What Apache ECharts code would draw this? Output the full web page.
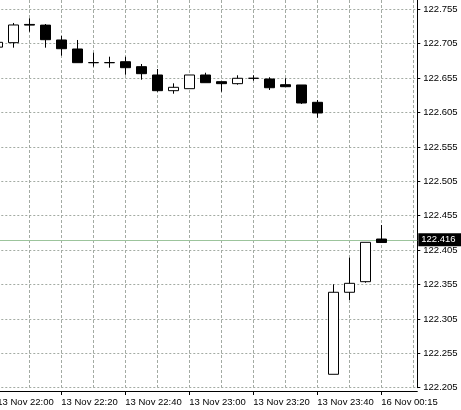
<!DOCTYPE html>
<html>
<head>
<meta charset="utf-8">
<title>USDJPY M5</title>
<script src="https://cdn.jsdelivr.net/npm/echarts@6.0.0/dist/echarts.min.js"></script>
<style>
    html, body { margin: 0; padding: 0; background: #fff; }
    #chart { width: 461px; height: 410px; }
</style>
</head>
<body>
<div id="chart"></div>
<script>
// 5 minute bars
var times = [
    '13 Nov 22:00', '13 Nov 22:05', '13 Nov 22:10', '13 Nov 22:15',
    '13 Nov 22:20', '13 Nov 22:25', '13 Nov 22:30', '13 Nov 22:35',
    '13 Nov 22:40', '13 Nov 22:45', '13 Nov 22:50', '13 Nov 22:55',
    '13 Nov 23:00', '13 Nov 23:05', '13 Nov 23:10', '13 Nov 23:15',
    '13 Nov 23:20', '13 Nov 23:25', '13 Nov 23:30', '13 Nov 23:35',
    '13 Nov 23:40', '13 Nov 23:45', '13 Nov 23:50', '13 Nov 23:55',
    '16 Nov 00:15'
];
var opens = [
    122.700, 122.7065, 122.733, 122.732, 122.7104, 122.6973, 122.6775, 122.6775,
    122.6788, 122.6716, 122.6595, 122.6367, 122.6396, 122.6595, 122.6498, 122.6469,
    122.6547, 122.6537, 122.6454, 122.6450, 122.6198, 122.2245, 122.3437, 122.3591,
    122.4211
];
var closes = [
    122.707, 122.7322, 122.732, 122.7108, 122.6977, 122.6774, 122.6774, 122.6774,
    122.6701, 122.6614, 122.6367, 122.6416, 122.6595, 122.6483, 122.6469, 122.6547,
    122.6547, 122.6410, 122.6425, 122.6188, 122.6043, 122.3437, 122.3567, 122.4163,
    122.416
];
var lows = [
    122.699, 122.6992, 122.7224, 122.6992, 122.6876, 122.6774, 122.6716, 122.6701,
    122.6599, 122.6527, 122.6352, 122.6323, 122.6396, 122.6483, 122.6352, 122.6454,
    122.6512, 122.6377, 122.6425, 122.6174, 122.5974, 122.2245, 122.3325, 122.3576,
    122.416
];
var highs = [
    122.708, 122.7351, 122.7419, 122.7336, 122.7163, 122.7104, 122.6919, 122.6861,
    122.6861, 122.6755, 122.6682, 122.6474, 122.6595, 122.6628, 122.6498, 122.6591,
    122.6591, 122.6562, 122.6547, 122.6450, 122.6232, 122.3553, 122.3940, 122.4163,
    122.4415
];
var lastPrice = 122.416;

// price scale
var yMin = 122.205;
var yMax = 122.7685;
var yStep = 0.05;

// each bar gets 4 slots on the axis so grid lines can sit on bar centres
var SLOTS = 4;
var PAD_SLOTS = 6; // empty space right of the last bar
var cats = [];
var ohlc = [];
for (var i = 0; i < times.length; i++) {
    for (var s = 0; s < SLOTS; s++) {
        if (s === 0) {
            cats.push(times[i]);
            ohlc.push([opens[i], closes[i], lows[i], highs[i]]);
        } else {
            cats.push(times[i] + ' +' + s);
            ohlc.push(['-', '-', '-', '-']);
        }
    }
}
for (var p = 0; p < PAD_SLOTS; p++) {
    cats.push('pad ' + p);
    ohlc.push(['-', '-', '-', '-']);
}

var FONT = 'Liberation Sans';
var gridColor = '#a3aba3';

var myChart = echarts.init(document.getElementById('chart'));
myChart.setOption({
    animation: false,
    backgroundColor: '#fff',
    textStyle: { fontFamily: FONT },
    grid: {
        left: -2.7,
        right: 43.7,
        top: 0,
        bottom: 22.3,
        containLabel: false,
        outerBoundsMode: 'none'
    },
    xAxis: {
        type: 'category',
        data: cats,
        boundaryGap: false,
        offset: 3.3,
        axisLine: { lineStyle: { color: '#000', width: 1 } },
        axisTick: {
            length: 4,
            lineStyle: { color: '#000' },
            interval: function (idx) { return idx % (SLOTS * 4) === 0; }
        },
        axisLabel: {
            interval: function (idx) { return idx % (SLOTS * 4) === 0; },
            align: 'left',
            margin: 6,
            color: '#000',
            fontSize: 9.5,
            fontFamily: FONT
        },
        splitLine: {
            show: true,
            interval: function (idx) { return idx % (SLOTS * 2) === 0; },
            lineStyle: { color: gridColor, type: [3, 2], width: 1 }
        }
    },
    yAxis: {
        type: 'value',
        position: 'right',
        scale: true,
        min: yMin,
        max: yMax,
        interval: yStep,
        axisLine: { show: true, lineStyle: { color: '#000', width: 1 } },
        axisTick: { show: true, length: 3, lineStyle: { color: '#000' } },
        axisLabel: {
            margin: 6,
            color: '#000',
            fontSize: 9.5,
            fontFamily: FONT,
            showMaxLabel: false,
            formatter: function (v) { return v.toFixed(3); }
        },
        splitLine: {
            show: true,
            showMaxLine: false,
            lineStyle: { color: gridColor, type: [2, 2], width: 1 }
        }
    },
    series: [
        {
            // carries only the last price line, kept under the candles
            type: 'line',
            data: [],
            z: 1,
            markLine: {
                z: 1,
                silent: true,
                symbol: ['none', 'none'],
                lineStyle: { color: '#9cc49c', width: 1, type: 'solid' },
                label: {
                    show: true,
                    position: 'end',
                    distance: 1,
                    formatter: lastPrice.toFixed(3),
                    backgroundColor: '#000',
                    color: '#fff',
                    padding: [2, 6, 1, 3],
                    fontSize: 9.5,
                    fontFamily: FONT
                },
                data: [{ yAxis: lastPrice }]
            }
        },
        {
            type: 'candlestick',
            data: ohlc,
            barWidth: 10,
            z: 3,
            itemStyle: {
                color: '#fff',
                color0: '#000',
                borderColor: '#000',
                borderColor0: '#000',
                borderWidth: 1
            }
        }
    ]
});
</script>
</body>
</html>
